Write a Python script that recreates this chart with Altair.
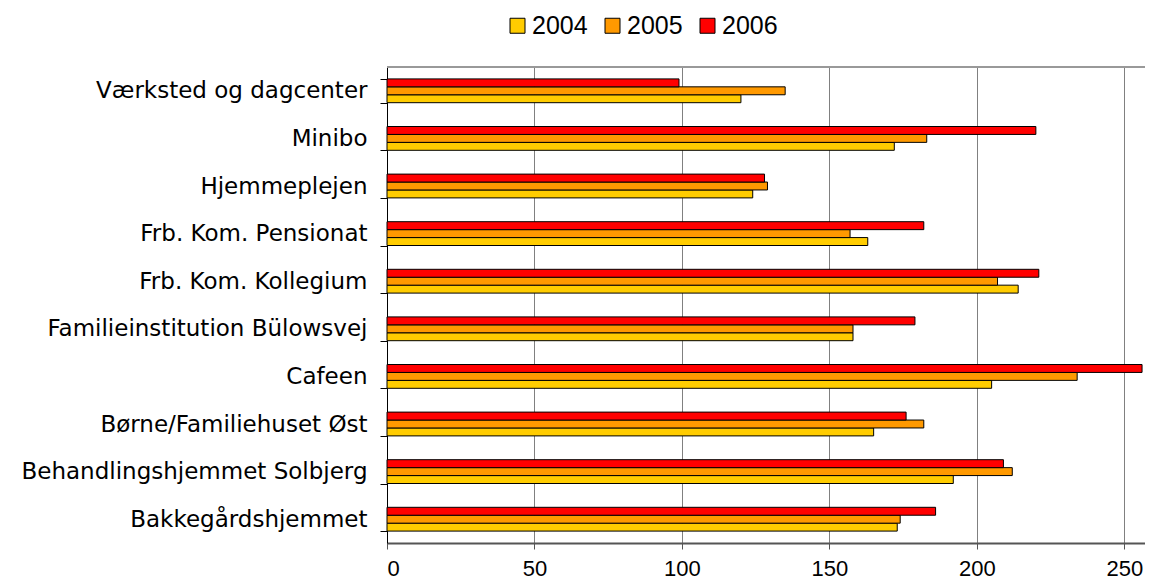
import altair as alt
import pandas as pd

categories = ["Værksted og dagcenter", "Minibo", "Hjemmeplejen", "Frb. Kom. Pensionat",
              "Frb. Kom. Kollegium", "Familieinstitution Bülowsvej", "Cafeen",
              "Børne/Familiehuset Øst", "Behandlingshjemmet Solbjerg", "Bakkegårdshjemmet"]
years = ["2004", "2005", "2006"]
v2004 = [120, 172, 124, 163, 214, 158, 205, 165, 192, 173]
v2005 = [135, 183, 129, 157, 207, 158, 234, 182, 212, 174]
v2006 = [99, 220, 128, 182, 221, 179, 256, 176, 209, 186]
colors = ["#FFCC00", "#FF9900", "#FF0000"]
x_ticks = [0, 50, 100, 150, 200, 250]

rows = []
for yr, vals in zip(years, [v2004, v2005, v2006]):
    for c, v in zip(categories, vals):
        rows.append({"cat": c, "year": yr, "value": v})
df = pd.DataFrame(rows)

W, H = 758, 476

bars = alt.Chart(df).mark_bar(stroke="black", strokeWidth=1, cornerRadius=0).encode(
    x=alt.X("value:Q",
            scale=alt.Scale(domain=[0, 257], nice=False, zero=True),
            axis=alt.Axis(values=x_ticks, title=None, grid=True, gridColor="#808080",
                          gridWidth=1, domainColor="#555555", domainWidth=2,
                          tickColor="#555555", tickSize=6, labelFontSize=22,
                          labelFont="Liberation Sans", labelColor="black",
                          labelPadding=9, format="d")),
    y=alt.Y("cat:N", sort=categories,
            scale=alt.Scale(paddingInner=0.5, paddingOuter=0.25),
            axis=alt.Axis(title=None, tickBand="extent", domainColor="black",
                          domainWidth=1, tickColor="black", tickSize=7, grid=False,
                          labelFontSize=23, labelFont="DejaVu Sans", labelColor="black",
                          labelPadding=13, labelLimit=400)),
    yOffset=alt.YOffset("year:N", sort=["2006", "2005", "2004"],
                        scale=alt.Scale(domain=["2006", "2005", "2004"], paddingInner=0, paddingOuter=0)),
    color=alt.Color("year:N", scale=alt.Scale(domain=years, range=colors),
                    legend=alt.Legend(title=None, orient="none", direction="horizontal",
                                      legendX=118, legendY=-54, symbolType="square",
                                      symbolSize=225, symbolStrokeColor="black",
                                      symbolStrokeWidth=1, symbolOpacity=1,
                                      labelFontSize=25, labelFont="Liberation Sans",
                                      labelColor="black", columnPadding=12, labelOffset=2)),
)

top = alt.Chart(df).mark_rule(color="#999999", strokeWidth=2).encode(
    x=alt.value(0), x2=alt.value(W), y=alt.value(0))

chart = alt.layer(bars, top).properties(
    width=W, height=H,
    autosize=alt.AutoSizeParams(type="none"),
    padding={"left": 379, "top": 59, "right": 0, "bottom": 37},
).configure_view(stroke=None).configure(background="white")

chart.save("out.html", embed_options={"renderer": "svg", "actions": False})
